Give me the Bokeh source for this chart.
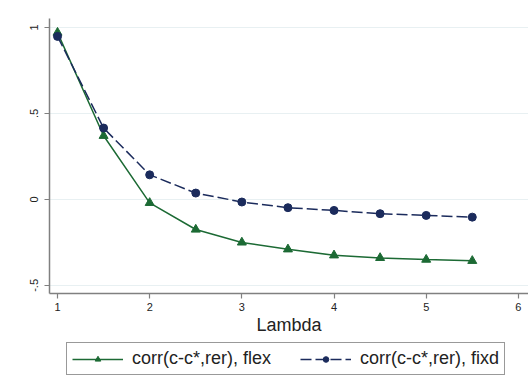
from bokeh.plotting import figure
from bokeh.models import Legend, LegendItem, FixedTicker, Range1d
from bokeh.layouts import column
from bokeh.embed import file_html
from bokeh.resources import INLINE

lam = [1, 1.5, 2, 2.5, 3, 3.5, 4, 4.5, 5, 5.5]
flex = [0.97, 0.37, -0.02, -0.175, -0.25, -0.29, -0.325, -0.34, -0.35, -0.357]
fixd = [0.948, 0.415, 0.143, 0.037, -0.015, -0.048, -0.064, -0.083, -0.093, -0.103]
x_ticks = [1, 2, 3, 4, 5, 6]
y_ticks = [-0.5, 0, 0.5, 1]
y_tick_labels = ["-.5", "0", ".5", "1"]
labels = ["corr(c-c*,rer), flex", "corr(c-c*,rer), fixd"]

GREEN = "#1c6a34"
NAVY = "#1b2b5c"
FONT = "Liberation Sans"
DASH = "11 4"

p = figure(width=528, height=339, output_backend="svg", toolbar_location=None,
           x_range=Range1d(0.913, 6.11), y_range=Range1d(-0.547, 1.052),
           min_border_left=49, min_border_right=0, min_border_top=18,
           min_border_bottom=46)
p.outline_line_color = None
p.background_fill_color = "white"
p.border_fill_color = "white"

p.xgrid.grid_line_color = None
p.ygrid.grid_line_color = "#e8f0f2"
p.ygrid.grid_line_width = 1

for ax in (p.xaxis[0], p.yaxis[0]):
    ax.axis_line_color = "#808080"
    ax.axis_line_width = 1.5
    ax.major_tick_line_color = "#808080"
    ax.major_tick_line_width = 1.2
    ax.major_tick_out = 5
    ax.major_tick_in = 0
    ax.minor_tick_line_color = None
    ax.major_label_text_font = FONT
    ax.major_label_text_font_size = "11px"
    ax.major_label_text_color = "#222222"

p.xaxis.ticker = FixedTicker(ticks=x_ticks)
p.yaxis.ticker = FixedTicker(ticks=y_ticks)
p.ygrid.ticker = FixedTicker(ticks=y_ticks)
p.yaxis.major_label_overrides = {t: l for t, l in zip(y_ticks, y_tick_labels)}
p.yaxis.major_label_orientation = "vertical"
p.yaxis.major_label_standoff = 6
p.xaxis.major_label_standoff = 4

p.xaxis.axis_label = "Lambda"
p.xaxis.axis_label_text_font = FONT
p.xaxis.axis_label_text_font_size = "18px"
p.xaxis.axis_label_text_font_style = "normal"
p.xaxis.axis_label_text_color = "#222222"
p.xaxis.axis_label_standoff = 1


def draw(fig):
    l1 = fig.line(lam, flex, line_color=GREEN, line_width=1.5)
    s1 = fig.scatter(lam, flex, marker="triangle", size=9, fill_color=GREEN, line_color=GREEN)
    l2 = fig.line(lam, fixd, line_color=NAVY, line_width=1.5, line_dash=DASH)
    s2 = fig.scatter(lam, fixd, marker="circle", size=8, fill_color=NAVY, line_color=NAVY)
    return l1, s1, l2, s2


draw(p)

# legend strip below the plot (its renderers sit outside the strip's view)
q = figure(width=528, height=40, output_backend="svg", toolbar_location=None,
           x_axis_location=None, y_axis_location=None,
           x_range=Range1d(100, 101), y_range=Range1d(100, 101),
           min_border=0, min_border_left=0, min_border_right=0,
           min_border_top=0, min_border_bottom=0)
q.outline_line_color = None
q.xgrid.grid_line_color = None
q.ygrid.grid_line_color = None
q.background_fill_color = "white"
q.border_fill_color = "white"
ql1, qs1, ql2, qs2 = draw(q)

legend = Legend(items=[LegendItem(label=labels[0], renderers=[ql1, qs1]),
                       LegendItem(label=labels[1], renderers=[ql2, qs2])],
                orientation="horizontal", location=(17, 4))
legend.label_text_font = FONT
legend.label_text_font_size = "18px"
legend.label_text_color = "#222222"
legend.glyph_width = 51
legend.glyph_height = 14
legend.label_height = 19
legend.label_standoff = 9
legend.spacing = 29
legend.padding = 5
legend.margin = 0
legend.border_line_color = "#333333"
legend.border_line_width = 1
legend.background_fill_color = "white"
legend.background_fill_alpha = 1
q.add_layout(legend, "center")

layout = column(p, q, spacing=0)
open("out.html", "w").write(file_html(layout, INLINE))
